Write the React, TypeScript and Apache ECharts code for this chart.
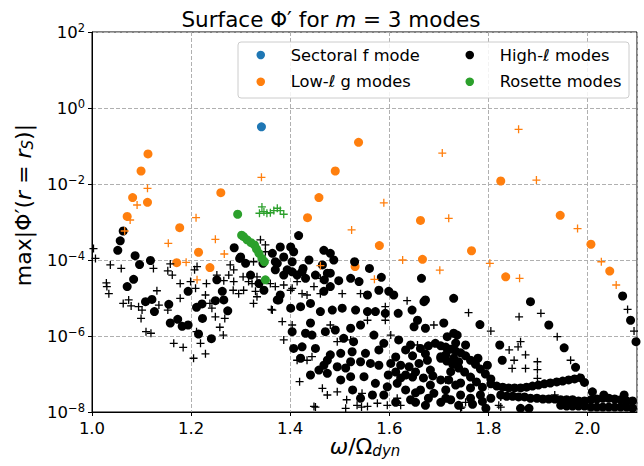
import React, { useEffect, useRef } from 'react';
import * as echarts from 'echarts';

// x tick labels / y decades
const xTicks = [1.0, 1.2, 1.4, 1.6, 1.8, 2.0];
const yDecades = [1e-8, 1e-6, 1e-4, 1e-2, 1e0, 1e2];

const sectoralF = [[1.342, 3.2e-1]];

const lowEllDots = [
  [1.113, 6.2e-2], [1.099, 2.2e-2], [1.082, 4.4e-3], [1.112, 3.3e-3], [1.071, 1.4e-3],
  [1.177, 7.1e-4], [1.26, 5.9e-3], [1.171, 8.5e-5], [1.215, 1.6e-4], [1.238, 6.3e-5],
  [1.458, 4.4e-3], [1.435, 1.3e-3], [1.58, 2.4e-4], [1.663, 1.1e-3], [1.667, 1.04e-4],
  [1.531, 6.7e-5], [1.538, 1.25e-1], [1.491, 2.2e-2], [1.825, 1.2e-2], [1.945, 1.5e-3],
  [1.766, 1.75e-4], [2.007, 2.6e-4], [1.835, 3.6e-5], [2.045, 5.1e-5],
];

const lowEllPlus = [
  [1.112, 7.7e-3], [1.091, 2.8e-3], [1.077, 1.13e-3], [1.066, 5.8e-4], [1.21, 1.3e-3],
  [1.154, 2.75e-4], [1.249, 3.5e-4], [1.267, 1.44e-4], [1.19, 8.7e-5], [1.212, 3.0e-5],
  [1.342, 1.5e-2], [1.589, 3.2e-3], [1.524, 6.2e-4], [1.72, 1.25e-3], [1.627, 1.0e-4],
  [1.702, 5.4e-5], [1.461, 7.1e-5], [1.57, 3.1e-5], [1.707, 6.5e-2], [1.861, 2.75e-1],
  [1.897, 1.27e-2], [1.98, 6.7e-4], [2.028, 9.0e-5], [1.803, 8.2e-5], [1.863, 3.3e-5],
  [2.058, 2.2e-5],
];

const rosetteDots = [
  [1.294, 1.6e-3], [1.302, 4.5e-4], [1.306, 4.1e-4], [1.313, 3.4e-4], [1.321, 2.85e-4],
  [1.328, 2.5e-4], [1.332, 1.95e-4], [1.337, 1.5e-4], [1.343, 1.1e-4], [1.348, 9.0e-5],
  [1.35, 3.0e-5],
];

const rosettePlus = [
  [1.338, 1.7e-3], [1.343, 2.5e-3], [1.347, 1.87e-3], [1.353, 1.7e-3], [1.36, 1.75e-3],
  [1.367, 2.0e-3], [1.374, 2.3e-3], [1.38, 2.0e-3], [1.387, 1.6e-3],
];

const highEllDots = [
  [1.063, 5.8e-4], [1.057, 3.2e-4], [1.052, 1.8e-4], [1.087, 1.3e-4], [1.096, 7.6e-5],
  [1.118, 9.7e-5], [1.084, 3.1e-5], [1.071, 2.0e-5], [1.108, 8.0e-6], [1.121, 9.2e-6],
  [1.126, 4.4e-6], [1.155, 6.8e-6], [1.158, 2.2e-6], [1.173, 2.75e-6], [1.182, 1.8e-6],
  [1.194, 1.95e-6], [1.215, 1.13e-6], [1.241, 8.5e-7], [1.223, 2.9e-6], [1.211, 5.7e-6],
  [1.222, 7.0e-6], [1.249, 8.5e-6], [1.266, 8.9e-6], [1.274, 4.6e-6], [1.263, 1.5e-5],
  [1.252, 3.0e-5], [1.194, 1.5e-5], [1.298, 1.1e-4], [1.31, 8.2e-5], [1.287, 2.1e-4],
  [1.345, 8.2e-5], [1.364, 1.5e-4], [1.374, 8.2e-5], [1.37, 5.5e-5], [1.374, 8.9e-6],
  [1.417, 4.4e-4], [1.3, 1.2e-4], [1.38, 2.2e-4], [1.401, 2.2e-4], [1.387, 1.2e-4],
  [1.404, 9.0e-5], [1.37, 9.0e-5], [1.387, 4.0e-5], [1.404, 4.9e-5], [1.424, 4.9e-5],
  [1.438, 1.0e-4], [1.468, 1.8e-4], [1.481, 1.5e-4], [1.488, 1.0e-4], [1.465, 7.4e-5],
  [1.475, 4.5e-5], [1.451, 4.0e-5], [1.431, 3.3e-5], [1.481, 2.0e-5], [1.468, 1.5e-5],
  [1.337, 2.4e-5], [1.32, 4.0e-5], [1.347, 1.6e-5], [1.407, 1.65e-4], [1.53, 9.0e-5],
  [1.56, 6.0e-5], [1.584, 3.5e-5], [1.665, 3.3e-5], [1.481, 4.5e-5], [1.469, 3.0e-5],
  [1.498, 2.85e-5], [1.522, 3.3e-5], [1.539, 2.7e-5], [1.426, 6.0e-5], [1.414, 4.0e-5],
  [1.394, 5.5e-5], [1.579, 1.6e-5], [1.599, 1.5e-5], [1.556, 1.2e-5], [1.673, 8.9e-6],
  [1.73, 9.8e-6], [1.609, 1.2e-5], [1.67, 8.0e-6], [1.646, 4.8e-6], [1.657, 2.6e-6],
  [1.673, 1.6e-6], [1.65, 1.75e-6], [1.71, 2.2e-6], [1.618, 3.95e-6], [1.592, 3.95e-6],
  [1.572, 4.4e-6], [1.556, 4.4e-6], [1.532, 4.8e-6], [1.542, 1.95e-6], [1.522, 1.6e-6],
  [1.491, 1.44e-6], [1.471, 1.3e-6], [1.441, 2.2e-6], [1.431, 1.18e-6], [1.444, 1.06e-6],
  [1.461, 4.4e-6], [1.485, 4.8e-6], [1.505, 5.4e-6], [1.441, 7.2e-6], [1.421, 5.9e-6],
  [1.401, 5.4e-6], [1.404, 1.3e-6], [1.377, 8.9e-6], [1.38, 1.2e-5],
  [1.407, 4.7e-7], [1.424, 5.2e-7], [1.451, 4.7e-7], [1.481, 3.2e-7], [1.502, 3.5e-7],
  [1.525, 3.85e-7], [1.552, 3.5e-7], [1.579, 4.3e-7], [1.589, 6.4e-7], [1.619, 7.9e-7],
  [1.633, 4.3e-7], [1.663, 4.7e-7], [1.693, 6.4e-7], [1.717, 9.6e-7], [1.737, 1.06e-6],
  [1.569, 1.06e-6], [1.528, 7.1e-7], [1.508, 8.7e-7], [1.475, 2.3e-7], [1.468, 1.7e-7],
  [1.475, 1.04e-7], [1.441, 9.4e-8], [1.458, 1.27e-7], [1.495, 1.55e-7], [1.522, 2.1e-7],
  [1.542, 2.1e-7], [1.562, 1.9e-7], [1.579, 1.7e-7], [1.603, 1.9e-7], [1.623, 1.7e-7],
  [1.64, 1.55e-7], [1.66, 1.9e-7], [1.677, 2.3e-7], [1.704, 2.85e-7], [1.73, 2.6e-7],
  [1.724, 1.15e-7], [1.704, 7.0e-8], [1.69, 3.1e-8], [1.663, 3.8e-8], [1.616, 5.7e-8],
  [1.596, 4.6e-8], [1.572, 5.7e-8], [1.549, 8.5e-8], [1.522, 8.5e-8], [1.502, 7.0e-8],
  [1.566, 2.8e-8], [1.542, 2.3e-8],
  [1.783, 2.0e-6], [1.885, 8.0e-6], [1.922, 1.95e-6], [1.953, 4.9e-7], [1.976, 1.5e-7],
  [1.994, 6.0e-8], [2.071, 1.13e-5], [2.087, 2.6e-6], [2.098, 7.1e-7], [1.823, 5.8e-7],
  [1.828, 2.3e-7], [1.779, 2.6e-7], [1.798, 1.7e-7], [2.01, 3.4e-8], [2.033, 2.8e-8],
  [2.074, 2.8e-8], [1.865, 1.25e-8], [1.882, 1.25e-8], [1.805, 2.3e-8], [1.788, 1.9e-8],
  [1.73, 1.18e-6],
  [1.683, 1.27e-7], [1.74, 2.1e-7], [1.683, 5.1e-8], [1.714, 3.8e-8], [1.734, 5.1e-8],
  [1.744, 2.8e-8], [1.724, 2.1e-8], [1.704, 1.8e-8], [1.673, 1.5e-8], [1.643, 2.1e-8],
  [1.647, 8.3e-8], [1.669, 7.9e-8], [1.613, 1.13e-7], [1.633, 9.4e-8], [1.754, 5.8e-7],
  [1.653, 1.8e-8], [1.768, 1.6e-8], [1.795, 1.25e-8],
  // denser mass between 1.6 and 1.8
  [1.643, 5.8e-7], [1.679, 5.5e-7], [1.734, 6.5e-7], [1.613, 2.8e-7], [1.647, 3.0e-7],
  [1.673, 3.4e-7], [1.714, 3.2e-7], [1.623, 7.9e-8], [1.653, 1.13e-7], [1.688, 8.9e-8],
  [1.72, 7.0e-8], [1.744, 5.8e-8], [1.633, 3.8e-8], [1.653, 3.2e-8], [1.679, 2.3e-8],
  [1.714, 2.3e-8], [1.74, 1.5e-8], [1.764, 2.3e-8], [1.784, 2.8e-8], [1.764, 4.3e-8],
  [1.421, 2.6e-7], [1.512, 1.44e-7], [1.598, 9.4e-8], [1.526, 3.8e-8], [1.589, 2.8e-8],
  [1.613, 1.8e-8],
  // dense streaks in the lower right
  [1.704, 5.5e-7], [1.714, 5.1e-7], [1.724, 4.5e-7], [1.734, 4.0e-7], [1.744, 3.6e-7],
  [1.754, 3.0e-7], [1.764, 2.3e-7], [1.774, 1.8e-7], [1.784, 1.35e-7], [1.794, 1.0e-7],
  [1.805, 7.4e-8],
  [1.704, 2.6e-7], [1.716, 2.2e-7], [1.728, 1.8e-7], [1.74, 1.44e-7], [1.752, 1.13e-7],
  [1.764, 8.3e-8], [1.776, 6.2e-8], [1.788, 4.5e-8],
  [1.805, 5.5e-8], [1.817, 4.8e-8], [1.829, 4.5e-8], [1.841, 4.3e-8], [1.853, 4.3e-8],
  [1.865, 4.3e-8], [1.877, 4.5e-8], [1.889, 4.8e-8], [1.901, 5.1e-8], [1.913, 5.5e-8],
  [1.925, 5.8e-8], [1.938, 6.2e-8], [1.95, 6.5e-8], [1.962, 7.0e-8], [1.974, 7.4e-8],
  [1.986, 7.9e-8],
  [1.825, 2.8e-8], [1.837, 2.6e-8], [1.849, 2.6e-8], [1.861, 2.5e-8], [1.873, 2.5e-8],
  [1.885, 2.3e-8], [1.898, 2.3e-8], [1.91, 2.2e-8], [1.922, 2.2e-8], [1.934, 2.2e-8],
  [1.946, 2.1e-8], [1.958, 2.1e-8], [1.97, 2.1e-8], [1.982, 1.95e-8], [1.994, 1.95e-8],
  [2.007, 2.1e-8], [2.019, 2.2e-8], [2.031, 2.3e-8], [2.043, 2.3e-8], [2.055, 2.2e-8],
  [2.067, 2.1e-8], [2.079, 1.95e-8], [2.091, 1.95e-8],
  [1.946, 1.5e-8], [1.958, 1.44e-8], [1.97, 1.44e-8], [1.982, 1.44e-8], [1.994, 1.44e-8],
  [2.007, 1.35e-8], [2.019, 1.35e-8], [2.031, 1.35e-8], [2.043, 1.35e-8], [2.055, 1.35e-8],
  [2.067, 1.35e-8], [2.079, 1.35e-8], [2.091, 1.27e-8],
];

const highEllPlus = [
  [1.003, 2.0e-4], [1.007, 1.1e-4], [1.037, 7.4e-5], [1.059, 6.0e-5], [1.124, 6.0e-5],
  [1.158, 7.9e-5], [1.153, 5.2e-5], [1.162, 4.0e-5], [1.029, 2.5e-5], [1.03, 2.0e-5],
  [1.034, 1.3e-5], [1.063, 7.2e-6], [1.074, 8.9e-6], [1.079, 6.2e-6], [1.094, 5.9e-6],
  [1.099, 2.9e-6], [1.101, 4.8e-6], [1.109, 1.3e-6], [1.119, 1.18e-6], [1.131, 1.55e-5],
  [1.135, 6.5e-6], [1.153, 4.8e-6], [1.178, 9.8e-6], [1.178, 2.4e-5], [1.199, 2.7e-5],
  [1.209, 1.8e-5], [1.207, 5.5e-5], [1.212, 6.7e-5], [1.231, 2.4e-5], [1.229, 1.2e-5],
  [1.238, 7.2e-6], [1.242, 5.4e-6], [1.249, 3.2e-6], [1.258, 1.7e-6], [1.265, 1.06e-6],
  [1.268, 2.9e-6], [1.165, 6.4e-7], [1.184, 5.0e-7], [1.205, 2.6e-7], [1.229, 3.4e-7],
  [1.219, 6.4e-7], [1.211, 1.3e-6], [1.252, 4.0e-5], [1.266, 2.85e-5], [1.276, 4.0e-5],
  [1.286, 2.7e-5], [1.279, 7.4e-5], [1.285, 1.6e-5], [1.296, 1.3e-5], [1.306, 1.6e-5],
  [1.316, 2.7e-5], [1.323, 2.4e-5], [1.33, 1.5e-5], [1.326, 7.2e-6], [1.333, 1.08e-5],
  [1.362, 5.0e-6], [1.305, 3.6e-5], [1.333, 3.6e-5], [1.34, 3.4e-4], [1.35, 2.5e-4],
  [1.35, 1.65e-4], [1.326, 9.0e-5], [1.286, 5.5e-5], [1.36, 2.4e-5], [1.37, 2.0e-5],
  [1.387, 2.2e-5], [1.404, 1.8e-5], [1.414, 2.7e-5], [1.448, 2.0e-5], [1.424, 1.3e-5],
  [1.461, 3.3e-5],
  [1.364, 4.8e-6], [1.384, 2.4e-6], [1.404, 1.95e-6], [1.387, 7.9e-7], [1.414, 2.3e-7],
  [1.434, 2.3e-7], [1.444, 2.85e-7], [1.419, 6.3e-8], [1.465, 4.2e-8], [1.475, 2.8e-8],
  [1.495, 3.4e-8], [1.514, 2.1e-8], [1.512, 1.25e-8], [1.448, 1.4e-8], [1.535, 1.5e-8],
  [1.556, 1.4e-8], [1.576, 1.7e-8], [1.596, 1.5e-8], [1.603, 1.06e-6], [1.636, 8.5e-6],
  [1.69, 1.95e-6], [1.657, 5.8e-7], [1.545, 3.1e-8], [1.616, 2.3e-8], [1.623, 1.5e-8],
  [1.495, 7.1e-7], [1.522, 7.9e-7], [1.592, 5.9e-6], [1.592, 2.6e-6], [1.556, 2.6e-6],
  [1.481, 1.95e-6], [1.505, 1.3e-5], [1.542, 1.3e-5], [1.461, 1.3e-5], [1.434, 1.2e-5],
  [1.401, 1.6e-5], [1.451, 1.35e-8], [1.544, 1.35e-8], [1.746, 1.35e-8], [1.754, 1.8e-8],
  [1.825, 1.35e-8],
  [1.76, 4.1e-6], [1.805, 1.35e-6], [1.862, 3.2e-6], [1.906, 3.95e-6], [1.939, 9.6e-7],
  [1.966, 2.3e-7], [1.983, 8.2e-8], [2.081, 5.0e-6], [2.094, 1.35e-6], [1.842, 4.3e-7],
  [1.86, 5.2e-7], [1.865, 7.1e-7], [1.875, 3.2e-7], [1.875, 1.4e-7], [1.899, 2.1e-7],
  [1.899, 1.3e-7], [1.852, 2.3e-7], [1.848, 1.4e-7], [1.899, 7.7e-8], [1.825, 2.5e-8],
  [1.821, 1.5e-8], [1.744, 1.25e-8], [1.714, 7.0e-8], [1.934, 2.8e-8],
];

const BLACK = '#000000';
const ORANGE = '#ff7f0e';
const GREEN = '#2ca02c';
const BLUE = '#1f77b4';
const PLUS = 'path://M4,0L4,8M0,4L8,4';
const FONT = 'DejaVu Sans';

function dotSeries(name: string, data: number[][], color: string) {
  return {
    name,
    type: 'scatter',
    data,
    symbol: 'circle',
    symbolSize: 9,
    itemStyle: { color, opacity: 1 },
    emphasis: { disabled: true },
  };
}

function plusSeries(name: string, data: number[][], color: string) {
  return {
    name,
    type: 'scatter',
    data,
    symbol: PLUS,
    symbolSize: 8,
    itemStyle: { color, borderColor: color, borderWidth: 1.3, opacity: 1 },
    emphasis: { disabled: true },
  };
}

export default function App() {
  const ref = useRef<HTMLDivElement>(null);
  useEffect(() => {
    const chart = echarts.init(ref.current!, null, { renderer: 'svg' });
    const legendText = {
      color: '#000', fontSize: 16.3, fontFamily: FONT, lineHeight: 18, padding: [0, 0, 0, 10],
    };
    const option: any = {
      animation: false,
      backgroundColor: '#ffffff',
      textStyle: { fontFamily: FONT },
      grid: {
        left: 92, right: 7, top: 32, bottom: 54,
        show: true, borderColor: '#000', borderWidth: 1, backgroundColor: 'transparent',
        containLabel: false, outerBoundsMode: 'none',
      },
      legend: [
        {
          data: ['Sectoral f mode', 'Low-ℓ g modes'],
          orient: 'vertical', left: 256.5, top: 46, padding: 0,
          itemWidth: 30, itemHeight: 8.5, itemGap: 8.7, icon: 'circle',
          textStyle: legendText, selectedMode: false, z: 6,
        },
        {
          data: ['High-ℓ modes', 'Rosette modes'],
          orient: 'vertical', left: 465.5, top: 46, padding: 0,
          itemWidth: 30, itemHeight: 8.5, itemGap: 8.7, icon: 'circle',
          textStyle: legendText, selectedMode: false, z: 6,
        },
      ],
      xAxis: {
        type: 'value', min: xTicks[0], max: 2.1, interval: 0.2,
        axisLine: { show: true, onZero: false, lineStyle: { color: '#000', width: 1 } },
        axisTick: { show: true, length: 4, lineStyle: { color: '#000' } },
        axisLabel: {
          color: '#000', fontSize: 16.5, fontFamily: FONT, margin: 8, showMaxLabel: false,
          formatter: (v: number) => v.toFixed(1),
        },
        splitLine: { show: true, lineStyle: { color: '#b0b0b0', type: [4, 2], width: 1 } },
      },
      yAxis: {
        type: 'log', logBase: 10, min: yDecades[0], max: yDecades[yDecades.length - 1], interval: 2,
        axisLine: { show: true, onZero: false, lineStyle: { color: '#000', width: 1 } },
        axisTick: { show: true, length: 4, lineStyle: { color: '#000' } },
        minorTick: { show: false },
        axisLabel: {
          color: '#000', margin: 7,
          formatter: (v: number) => {
            const e = Math.round(Math.log10(v));
            return `{b|10}{s|${e < 0 ? '\u2212' + -e : e}}`;
          },
          rich: {
            b: { fontSize: 16.5, fontFamily: FONT, color: '#000', lineHeight: 20 },
            s: { fontSize: 11.5, fontFamily: FONT, color: '#000', lineHeight: 8, verticalAlign: 'top' },
          },
        },
        splitLine: { show: true, lineStyle: { color: '#b0b0b0', type: [4, 2], width: 1 } },
      },
      graphic: [
        {
          type: 'rect', z: 5, silent: true,
          shape: { x: 238, y: 42, width: 391, height: 56, r: 3 },
          style: { fill: 'rgba(255,255,255,0.85)', stroke: '#cccccc', lineWidth: 1 },
        },
        {
          type: 'text', x: 331, y: 19, z: 10,
          style: {
            text: 'Surface \u03A6\u2032 for {i|m} = 3 modes',
            fill: '#000', fontSize: 21.5, fontFamily: FONT, align: 'center', verticalAlign: 'middle',
            lineHeight: 24,
            rich: { i: { fontSize: 21.5, fontFamily: FONT, fontStyle: 'italic', fill: '#000', lineHeight: 24 } },
          },
        },
        {
          type: 'text', x: 23, y: 205, rotation: Math.PI / 2, z: 10,
          style: {
            text: 'max|\u03A6\u2032({i|r} = {i|r}{sub|S})|',
            fill: '#000', fontSize: 22, fontFamily: FONT, align: 'center', verticalAlign: 'middle',
            lineHeight: 24,
            rich: {
              i: { fontSize: 22, fontFamily: FONT, fontStyle: 'italic', fill: '#000', lineHeight: 24 },
              sub: { fontSize: 15, fontFamily: FONT, fontStyle: 'italic', fill: '#000', lineHeight: 12, verticalAlign: 'bottom' },
            },
          },
        },
        {
          type: 'text', x: 365, y: 446, z: 10,
          style: {
            text: '{i|\u03C9}/\u03A9{sub|dyn}',
            fill: '#000', fontSize: 22, fontFamily: FONT, align: 'center', verticalAlign: 'middle',
            lineHeight: 24,
            rich: {
              i: { fontSize: 22, fontFamily: FONT, fontStyle: 'italic', fill: '#000', lineHeight: 24 },
              sub: { fontSize: 15, fontFamily: FONT, fontStyle: 'italic', fill: '#000', lineHeight: 12, verticalAlign: 'bottom' },
            },
          },
        },
      ],
      series: [
        dotSeries('Low-ℓ g modes', lowEllDots, ORANGE),
        dotSeries('High-ℓ modes', highEllDots, BLACK),
        plusSeries('High-ℓ modes (+)', highEllPlus, BLACK),
        plusSeries('Low-ℓ g modes (+)', lowEllPlus, ORANGE),
        dotSeries('Rosette modes', rosetteDots, GREEN),
        plusSeries('Rosette modes (+)', rosettePlus, GREEN),
        dotSeries('Sectoral f mode', sectoralF, BLUE),
      ],
    };
    chart.setOption(option);
    return () => chart.dispose();
  }, []);
  return (
    <div
      ref={ref}
      style={{ position: 'fixed', left: 0, top: 0, width: 644, height: 466, background: '#fff' }}
    />
  );
}
